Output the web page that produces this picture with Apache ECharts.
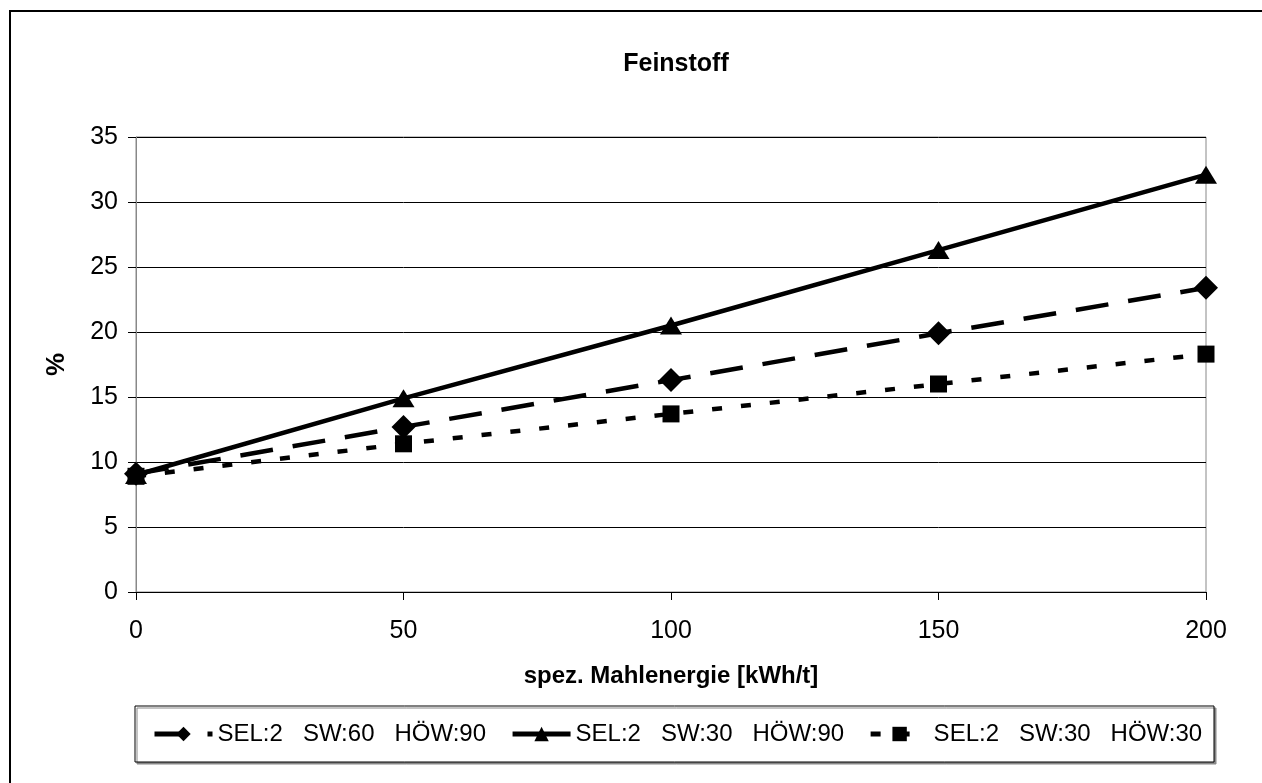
<!DOCTYPE html>
<html>
<head>
<meta charset="utf-8">
<script src="https://cdn.jsdelivr.net/npm/echarts@6/dist/echarts.min.js"></script>
<style>
  html, body { margin: 0; padding: 0; background: #fff; }
  #chart { width: 1262px; height: 783px; }
</style>
</head>
<body>
<div id="chart"></div>
<script>
  // spez. Mahlenergie [kWh/t]
  var energy = [0, 50, 100, 150, 200]
  var seriesNames = ['SEL:2   SW:60   HÖW:90', 'SEL:2   SW:30   HÖW:90', 'SEL:2   SW:30   HÖW:30']
  var sw60how90 = [9.1, 12.7, 16.3, 19.9, 23.4]
  var sw30how90 = [9.0, 14.9, 20.5, 26.3, 32.1]
  var sw30how30 = [8.9, 11.4, 13.7, 16.0, 18.3]
  var yTicks = [0, 5, 10, 15, 20, 25, 30, 35]

  function pairs (ys) {
    return energy.map(function (x, i) { return [x, ys[i]] })
  }

  var font = 'Liberation Sans, Arial, sans-serif'
  var chart = echarts.init(document.getElementById('chart'))
  chart.setOption({
    animation: false,
    backgroundColor: '#fff',
    textStyle: { fontFamily: font, color: '#000' },
    title: {
      text: 'Feinstoff',
      left: 671,
      textAlign: 'center',
      top: 47,
      textStyle: { fontFamily: font, fontSize: 25, fontWeight: 'bold', color: '#000' }
    },
    graphic: [
      { // outer frame
        type: 'rect',
        shape: { x: 10, y: 11, width: 1262, height: 800 },
        style: { fill: 'none', stroke: '#000', lineWidth: 2 },
        z: 0
      },
      { // legend box
        type: 'rect',
        shape: { x: 135, y: 706, width: 1079, height: 56 },
        style: {
          fill: '#fff', stroke: '#000', lineWidth: 1,
          shadowColor: '#888', shadowOffsetX: 2, shadowOffsetY: 2, shadowBlur: 0
        },
        z: 1
      }
    ],
    legend: {
      data: seriesNames,
      left: 152,
      top: 722,
      padding: 0,
      itemWidth: 58,
      itemHeight: 18,
      itemGap: 24,
      z: 5,
      lineStyle: { width: 5 },
      textStyle: { fontFamily: font, fontSize: 24, color: '#000' }
    },
    grid: {
      left: 136,
      right: 56,
      top: 137,
      bottom: 191,
      show: true,
      borderColor: '#888',
      borderWidth: 1,
      backgroundColor: '#fff'
    },
    xAxis: {
      type: 'value',
      min: 0,
      max: 200,
      interval: 50,
      name: 'spez. Mahlenergie [kWh/t]',
      nameLocation: 'middle',
      nameGap: 72,
      nameTextStyle: { fontFamily: font, fontSize: 24, fontWeight: 'bold', color: '#000' },
      axisLine: { lineStyle: { color: '#000', width: 1 } },
      axisTick: { show: true, length: 8, lineStyle: { color: '#000' } },
      axisLabel: { fontFamily: font, fontSize: 25, color: '#000', margin: 27 },
      splitLine: { show: false }
    },
    yAxis: {
      type: 'value',
      min: yTicks[0],
      max: yTicks[yTicks.length - 1],
      interval: 5,
      name: '%',
      nameLocation: 'middle',
      nameGap: 66,
      nameTextStyle: { fontFamily: font, fontSize: 26, fontWeight: 'bold', color: '#000' },
      axisLine: { show: true, lineStyle: { color: '#888', width: 1 } },
      axisTick: { show: true, length: 8, lineStyle: { color: '#000' } },
      axisLabel: { fontFamily: font, fontSize: 25, color: '#000', margin: 18 },
      splitLine: { show: true, lineStyle: { color: '#000', width: 1 } }
    },
    series: [
      {
        name: seriesNames[0],
        type: 'line',
        data: pairs(sw60how90),
        symbol: 'diamond',
        symbolSize: [24, 24],
        itemStyle: { color: '#000' },
        lineStyle: { color: '#000', width: 4.5, type: [33, 20], cap: 'butt' },
        z: 3
      },
      {
        name: seriesNames[1],
        type: 'line',
        data: pairs(sw30how90),
        symbol: 'triangle',
        symbolSize: [22, 18],
        itemStyle: { color: '#000' },
        lineStyle: { color: '#000', width: 4.5, type: 'solid' },
        z: 4
      },
      {
        name: seriesNames[2],
        type: 'line',
        data: pairs(sw30how30),
        symbol: 'rect',
        symbolSize: [17, 17],
        itemStyle: { color: '#000' },
        lineStyle: { color: '#000', width: 4.5, type: [10, 19], cap: 'butt' },
        z: 3
      }
    ]
  })
</script>
</body>
</html>
